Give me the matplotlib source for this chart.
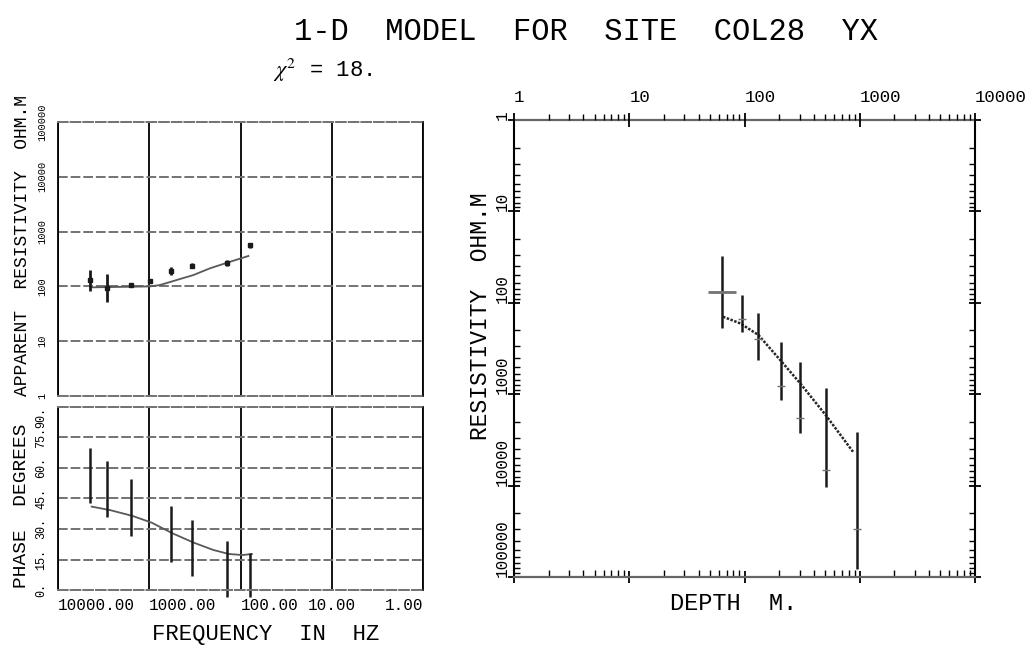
import numpy as np
import matplotlib.pyplot as plt
from matplotlib.ticker import NullLocator, LogLocator

plt.rcParams['font.family'] = ['Liberation Mono', 'DejaVu Sans Mono']
plt.rcParams['mathtext.fontset'] = 'stix'

# --- sounding data, apparent resistivity (ohm.m) vs frequency (Hz)
freq = [4460, 2925, 1585, 982, 578, 343, 142, 79]
rho_app = [131, 94, 105, 125, 192, 237, 270, 560]
rho_lo = [84, 53, 100, 115, 162, 214, 234, 513]
rho_hi = [199, 168, 110, 138, 229, 263, 309, 611]

# phase (degrees), no phase value at 982 Hz
freq_ph = [4460, 2925, 1585, 578, 343, 142, 79]
phase = [56.2, 49.7, 40.5, 27.5, 20.7, 10.3, 7.5]
phase_err = [13.6, 13.7, 13.9, 13.6, 13.7, 13.7, 10.8]

# model response
mod_freq = [4460, 982, 762, 500, 329, 216, 142, 82]
mod_rho = [96, 100, 106, 131, 161, 214, 269, 359]
mod_ph_freq = [4276, 2692, 1517, 940, 558, 326, 199, 134, 95, 75]
mod_phase = [41.0, 39.3, 36.4, 33.1, 27.9, 23.3, 19.7, 17.7, 17.2, 17.7]

# 1-D model (right panel)
layer_depth = [65, 92, 132, 204, 304, 506, 873]
layer_rho = [142, 168, 225, 423, 760, 1690, 4260]
inv_depth = [63.5, 94.8, 130, 208, 304, 506, 953]
inv_rho = [77, 150, 250, 813, 1820, 6770, 30000]
inv_lo = [31, 82, 130, 267, 441, 862, 2570]
inv_hi = [190, 207, 420, 1160, 2640, 10300, 82400]
cross_depth = [48, 85]

freq_ticks = [10000, 1000, 100, 10, 1]
freq_labels = ['10000.00', '1000.00', '100.00', '10.00', '1.00']
rho_ticks = [1, 10, 100, 1000, 10000, 100000]
phase_ticks = [0, 15, 30, 45, 60, 75, 90]
depth_ticks = [1, 10, 100, 1000, 10000]

fig = plt.figure(figsize=(10.32, 6.49), dpi=100)
ax1 = fig.add_axes([0.0562, 0.3898, 0.3537, 0.4222])
ax2 = fig.add_axes([0.0562, 0.0909, 0.3537, 0.2820])
ax3 = fig.add_axes([0.4981, 0.1109, 0.4467, 0.7042])

gray = dict(color='0.45', linewidth=1.4, linestyle=(0, (5, 1.5)))

for ax in (ax1, ax2):
    ax.set_xscale('log')
    ax.set_xlim(10000, 1)
    ax.set_xticks(freq_ticks)
    ax.xaxis.set_minor_locator(NullLocator())
    ax.grid(axis='x', color='k', lw=1.3)
    ax.grid(axis='y', **gray)
    ax.tick_params(length=0)
    for s in ('top', 'bottom'):
        ax.spines[s].set(**gray)
    for s in ('left', 'right'):
        ax.spines[s].set_linewidth(1.3)
    ax.set_axisbelow(True)

# apparent resistivity
ax1.set_yscale('log')
ax1.set_ylim(1, 100000)
ax1.set_yticks(rho_ticks)
ax1.yaxis.set_minor_locator(NullLocator())
ax1.set_yticklabels([str(t) for t in rho_ticks], rotation=90, va='center', fontsize=7.5)
ax1.tick_params(axis='y', pad=8)
ax1.set_xticklabels([])
ax1.plot(mod_freq, mod_rho, color='0.35', lw=1.3)
ax1.vlines(freq, rho_lo, rho_hi, color='0.1', lw=2)
ax1.plot(freq, rho_app, ls='none', marker='s', ms=3, color='0.1')
ax1.set_ylabel('APPARENT  RESISTIVITY  OHM.M', fontsize=13)
ax1.yaxis.set_label_coords(-0.073, 0.551)

# phase
ax2.set_ylim(0, 90)
ax2.set_yticks(phase_ticks)
ax2.set_yticklabels(['%d.' % t for t in phase_ticks], rotation=90, va='center', fontsize=8.5)
ax2.get_yticklabels()[-1].set_va('top')
ax2.tick_params(axis='y', pad=8)
ax2.set_xticklabels(freq_labels, fontsize=11.5)
for lab, ha in zip(ax2.get_xticklabels(), ['left', 'left', 'left', 'center', 'right']):
    lab.set_ha(ha)
ax2.tick_params(axis='x', pad=6)
ax2.plot(mod_ph_freq, mod_phase, color='0.35', lw=1.3)
ax2.vlines(freq_ph, np.array(phase) - np.array(phase_err), np.array(phase) + np.array(phase_err),
           color='0.1', lw=1.8, clip_on=False)
ax2.set_ylabel('PHASE  DEGREES', fontsize=14)
ax2.yaxis.set_label_coords(-0.076, 0.459)
ax2.set_xlabel('FREQUENCY  IN  HZ', fontsize=16)
ax2.xaxis.set_label_coords(0.57, -0.186)

# 1-D model
ax3.set_xscale('log')
ax3.set_yscale('log')
ax3.set_xlim(1, 10000)
ax3.set_ylim(100000, 1)
ax3.set_xticks(depth_ticks)
ax3.set_xticklabels([])
ax3.set_yticks(rho_ticks)
ax3.set_yticklabels([str(t) for t in rho_ticks], rotation=90, va='bottom', fontsize=11.5)
ax3.yaxis.set_minor_locator(LogLocator(base=10, subs=np.arange(2, 10)))
ax3.xaxis.set_minor_locator(LogLocator(base=10, subs=np.arange(2, 10)))
ax3.yaxis.set_ticks_position('both')
ax3.tick_params(which='major', direction='inout', length=9, width=1.3, pad=-1.5)
ax3.tick_params(which='minor', direction='in', length=4, width=1)
ax3.tick_params(axis='x', which='minor', direction='in', length=5)
for s in ('top', 'bottom'):
    ax3.spines[s].set(color='0.4', linewidth=1.6)
for s in ('left', 'right'):
    ax3.spines[s].set_linewidth(1.5)

top = ax3.twiny()
top.set_xscale('log')
top.set_xlim(1, 10000)
top.set_xticks(depth_ticks)
top.set_xticklabels([str(t) for t in depth_ticks], ha='left', fontsize=12.5)
top.xaxis.set_minor_locator(LogLocator(base=10, subs=np.arange(2, 10)))
top.tick_params(which='major', direction='inout', length=10, width=1.3, pad=6)
top.tick_params(which='minor', direction='out', length=4, width=1)
for s in top.spines.values():
    s.set_visible(False)

ax3.plot(layer_depth, layer_rho, color='0.15', lw=1.8, ls=(0, (1, 0.6)))
ax3.vlines(inv_depth, inv_lo, inv_hi, color='0.1', lw=1.8)
ax3.hlines(inv_rho[0], cross_depth[0], cross_depth[1], color='0.45', lw=2)
ax3.plot(inv_depth, inv_rho, ls='none', marker='_', ms=6, color='0.45')
ax3.set_ylabel('RESISTIVITY  OHM.M', fontsize=16.5)
ax3.yaxis.set_label_coords(-0.047, 0.571)
ax3.set_xlabel('DEPTH  M.', fontsize=17)
ax3.xaxis.set_label_coords(0.477, -0.033)

fig.text(0.568, 0.9384, '1-D  MODEL  FOR  SITE  COL28  YX', ha='center', va='baseline', fontsize=22)
fig.text(0.265, 0.8814, r'$\chi^2$ = 18.', ha='left', va='baseline', fontsize=16)

fig.savefig('out.png', dpi=100)
